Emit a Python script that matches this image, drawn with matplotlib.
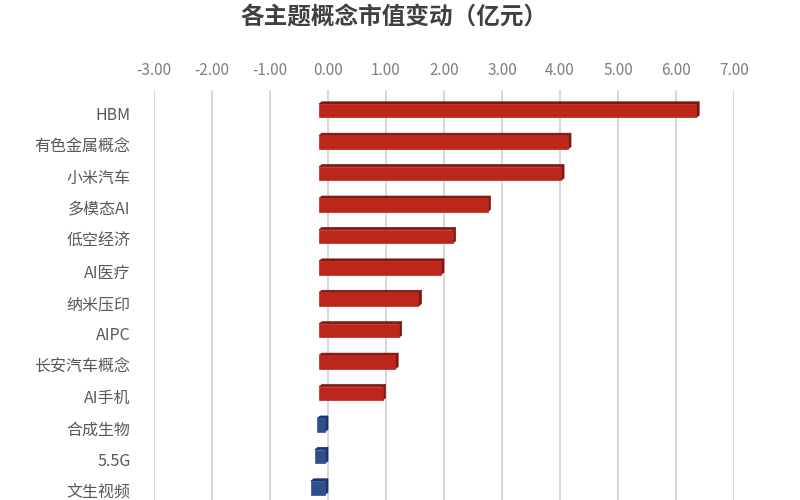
import numpy as np
import matplotlib
matplotlib.use("Agg")
import matplotlib.pyplot as plt
from matplotlib.patches import Polygon, Rectangle
from matplotlib.ticker import FormatStrFormatter

plt.rcParams['font.family'] = ['Noto Sans CJK SC', 'DejaVu Sans']
plt.rcParams['axes.unicode_minus'] = False

categories = ["HBM", "有色金属概念", "小米汽车", "多模态AI", "低空经济", "AI医疗",
              "纳米压印", "AIPC", "长安汽车概念", "AI手机", "合成生物", "5.5G", "文生视频"]
values = [6.40, 4.19, 4.07, 2.80, 2.20, 2.00, 1.61, 1.27, 1.21, 0.99, -0.03, -0.07, -0.14]
x_ticks = [-3, -2, -1, 0, 1, 2, 3, 4, 5, 6, 7]

red_front, red_dark = "#bd261b", "#7e1710"
blue_front, blue_dark = "#2e4f8f", "#1c3366"

fig = plt.figure(figsize=(8, 5), dpi=100)
ax = fig.add_axes([154 / 800, 0, 580 / 800, 410 / 500])
ax.set_xlim(-3, 7)
ax.set_ylim(12.29, -0.76)

# fake 3d look, data units: front face shifted left, thin bevel on top and right
shift = 0.155
bev_x, bev_y = 0.05, 0.07
h = 0.43

for i, v in enumerate(values):
    front, dark = (red_front, red_dark) if v >= 0 else (blue_front, blue_dark)
    x0, x1 = min(0, v) - shift, max(0, v) - bev_x
    c = i - 0.10
    top, bot = c - h / 2, c + h / 2
    ax.add_patch(Polygon([(x0, top), (x1, top), (x1 + bev_x, top - bev_y), (x0 + bev_x, top - bev_y)],
                         closed=True, facecolor=dark, edgecolor=dark, lw=0.5, zorder=3))
    ax.add_patch(Polygon([(x1, top), (x1 + bev_x, top - bev_y), (x1 + bev_x, bot - bev_y), (x1, bot)],
                         closed=True, facecolor=dark, edgecolor=dark, lw=0.5, zorder=3))
    ax.add_patch(Rectangle((x0, top), x1 - x0, h, facecolor=front, edgecolor=front,
                           lw=0.5, zorder=4))

ax.set_xticks(x_ticks)
ax.xaxis.set_major_formatter(FormatStrFormatter('%.2f'))
ax.xaxis.tick_top()
ax.grid(axis='x', color='#d9d9d9', lw=1.5)
ax.set_axisbelow(True)
ax.set_yticks(range(len(categories)))
ax.set_yticklabels(categories)
ax.tick_params(axis='x', length=0, pad=8, labelsize=11, labelcolor='#7f7f7f')
ax.tick_params(axis='y', length=0, pad=17, labelsize=11.5, labelcolor='#595959')
for s in ax.spines.values():
    s.set_visible(False)

fig.text(0.492, 0.964, "各主题概念市值变动（亿元）", ha='center', va='center',
         fontsize=17, fontweight='bold', color='#404040')

fig.savefig("out.png", dpi=100)
